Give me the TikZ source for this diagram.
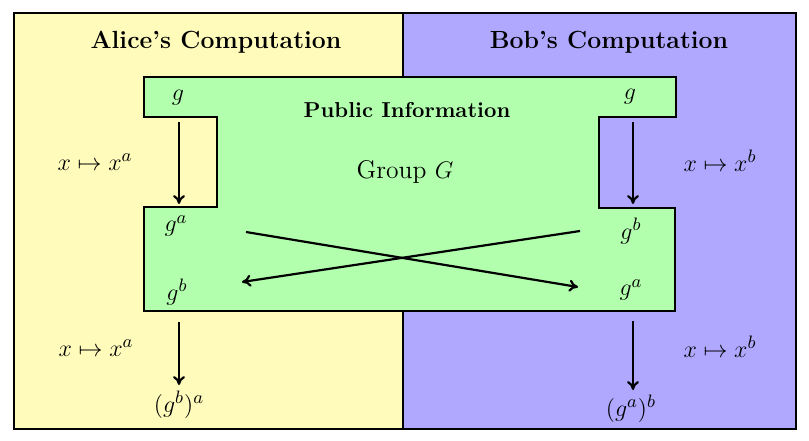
\documentclass[tikz,border=0pt]{standalone}
\usetikzlibrary{arrows.meta}
\definecolor{alicebg}{RGB}{255,252,187}
\definecolor{bobbg}{RGB}{176,168,255}
\definecolor{pubbg}{RGB}{178,255,174}
\begin{document}
\begin{tikzpicture}[x=0.5pt,y=-0.5pt,
  frame/.style={line width=1.1pt},
  title/.style={font=\fontsize{12.4}{14}\selectfont\bfseries},
  lbl/.style={font=\fontsize{12.8}{15}\selectfont, inner sep=0pt},
  flow/.style={line width=1.1pt,-{To[length=4.5pt,width=6pt]}}]
\useasboundingbox (0,0) rectangle (809,440);
% backgrounds
\fill[alicebg] (14,13) rectangle (403,429);
\fill[bobbg] (403,13) rectangle (796,429);
\draw[line width=0.6pt] (403,13) -- (403,429);
\draw[frame] (14,13) rectangle (796,429);
% public area
\draw[frame, fill=pubbg] (144,77) -- (676,77) -- (676,117) -- (599,117) -- (599,208)
  -- (675,208) -- (675,311) -- (144,311) -- (144,207) -- (217,207) -- (217,117)
  -- (144,117) -- cycle;
% titles
\node[title] (ta) at (216,42) {Alice's Computation};
\node[title] (tb) at (609,42) {Bob's Computation};
\node[font=\fontsize{10.8}{13}\selectfont\bfseries] (pub) at (407,110) {Public Information};
\node[lbl] (grp) at (405,172) {Group $G$};
% labels
\node[lbl] (ga0) at (178,98) {$g$};
\node[lbl] (gb0) at (630,97) {$g$};
\node[lbl] (ga1) at (176,226) {$g^a$};
\node[lbl] (gb1) at (631,231) {$g^b$};
\node[lbl] (ga2) at (177,292) {$g^b$};
\node[lbl] (gb2) at (631,290) {$g^a$};
\node[lbl] (ga3) at (179,405) {$(g^b)^a$};
\node[lbl] (gb3) at (631,409) {$(g^a)^b$};
\node[lbl] (ma1) at (95,162) {$x\mapsto x^a$};
\node[lbl] (mb1) at (720,161) {$x\mapsto x^b$};
\node[lbl] (ma2) at (96,348) {$x\mapsto x^a$};
\node[lbl] (mb2) at (720,347) {$x\mapsto x^b$};
% arrow endpoints
\coordinate (a1s) at (179,122); \coordinate (a1e) at (179,204);
\coordinate (b1s) at (633,122); \coordinate (b1e) at (633,204);
\coordinate (x1s) at (246,232); \coordinate (x1e) at (578,287);
\coordinate (x2s) at (580,231); \coordinate (x2e) at (242,282);
\coordinate (a2s) at (179,322); \coordinate (a2e) at (179,385);
\coordinate (b2s) at (633,321); \coordinate (b2e) at (633,390);
\draw[flow] (a1s) -- (a1e);
\draw[flow] (b1s) -- (b1e);
\draw[flow] (x1s) -- (x1e);
\draw[flow] (x2s) -- (x2e);
\draw[flow] (a2s) -- (a2e);
\draw[flow] (b2s) -- (b2e);
\end{tikzpicture}
\end{document}
